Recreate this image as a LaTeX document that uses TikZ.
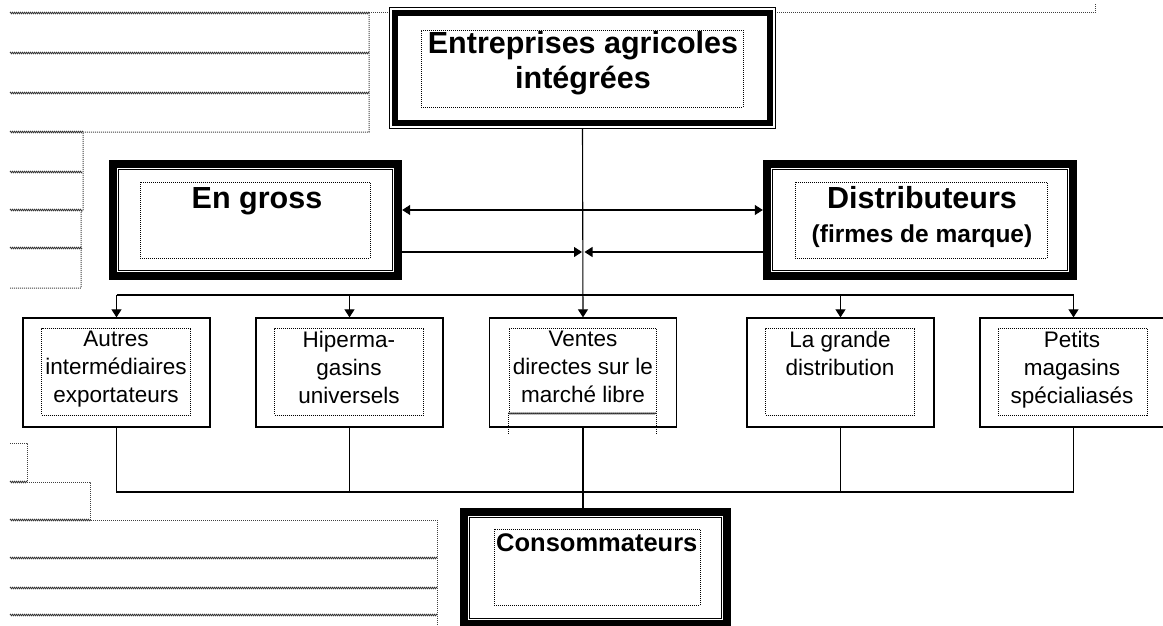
\documentclass[tikz,border=0pt]{standalone}
\usepackage{fontspec}
\setmainfont{Liberation Sans}
\usetikzlibrary{arrows.meta,decorations.pathmorphing,calc}
\begin{document}
\begin{tikzpicture}[x=1pt,y=-1pt,
  wavy/.style={draw=black!80, line width=0.7pt, decorate, decoration={zigzag,amplitude=0.8pt,segment length=2pt}},
  dots/.style={draw=black!75, line width=1pt, dash pattern=on 1pt off 1pt},
  inner/.style={draw=black, line width=0.9pt, dash pattern=on 1pt off 1pt, inner sep=0pt},
  frame/.style={draw=none, inner sep=0pt},
  smallbox/.style={draw=black, line width=1.3pt, inner sep=0pt, minimum width=187pt, minimum height=109pt},
  smallin/.style={inner, minimum width=149pt, minimum height=87pt},
  band/.style={line width=8pt},
  dbl/.style={draw=black, line width=0.8pt, double=white, double distance=2.5pt},
  conn/.style={line width=1.1pt},
  tip/.tip={Triangle[length=8pt,width=10pt]},
  arr/.style={-tip},
  bigtxt/.style={font=\fontsize{30.5}{35}\selectfont\bfseries, align=center, inner sep=0pt},
  smtxt/.style={font=\fontsize{22.5}{28}\selectfont, align=center, inner sep=0pt, anchor=north},
]
\useasboundingbox[fill=white] (0,0) rectangle (1163,626);

% ---------- background grid fragments ----------
\foreach \y in {13,53,93} \draw[wavy] (10,\y) -- (369,\y);
\draw[wavy] (10,132) -- (83,132);
\foreach \y in {172,210,248} \draw[wavy] (10,\y) -- (82,\y);
\draw[dots] (369,13) -- (390,13);
\draw[dots] (775,13) -- (1095,13) -- (1095,4);
\draw[dots] (369,13) -- (369,132) -- (83,132) -- (83,210) -- (81,212) -- (81,288) -- (10,288);
\draw[dots] (10,443) -- (27,443) -- (27,482) -- (90,482) -- (90,520) -- (437,520) -- (437,630);
\draw[wavy] (10,482) -- (27,482);
\draw[wavy] (10,520) -- (90,520);
\foreach \y in {558,588,615} \draw[wavy] (10,\y) -- (437,\y);

% ---------- top box ----------
\node[frame, minimum width=385pt, minimum height=120pt] (top) at (582.5,68) {};
\draw[line width=1pt] (top.north west) rectangle (top.south east);
\draw[line width=6pt] ($(top.north west)+(5.5,5.5)$) rectangle ($(top.south east)+(-5.5,-5.5)$);
\node[inner, minimum width=322pt, minimum height=77pt] (topin) at (582,68.5) {};
\node[bigtxt] (toptxt) at (583,63) {Entreprises agricoles\\intégrées};

% ---------- En gross ----------
\node[frame, minimum width=293pt, minimum height=120pt] (gross) at (255.5,220) {};
\draw[band] ($(gross.north west)+(4,4)$) rectangle ($(gross.south east)+(-4,-4)$);
\draw[dbl] ($(gross.north west)+(11.5,11.5)$) rectangle ($(gross.south east)+(-11.5,-11.5)$);
\node[inner, minimum width=230pt, minimum height=76pt] (grossin) at (255,220) {};
\node[bigtxt, anchor=north] (grosstxt) at (257,187) {En gross};

% ---------- Distributeurs ----------
\node[frame, minimum width=314pt, minimum height=120pt] (dist) at (920,220) {};
\draw[band] ($(dist.north west)+(4,4)$) rectangle ($(dist.south east)+(-4,-4)$);
\draw[dbl] ($(dist.north west)+(11.5,11.5)$) rectangle ($(dist.south east)+(-11.5,-11.5)$);
\node[inner, minimum width=252pt, minimum height=76pt] (distin) at (921,220) {};
\node[bigtxt, anchor=north] (disttxt) at (922,186) {Distributeurs};
\node[font=\fontsize{24.5}{28}\selectfont\bfseries, inner sep=0pt] (disttxt2) at (922,236) {(firmes de marque)};

% ---------- bottom row ----------
\node[smallbox] (b1) at (116.5,372.5) {};
\node[smallbox] (b2) at (349.5,372.5) {};
\node[smallbox] (b3) at (583,372.5) {};
\node[smallbox] (b4) at (840.5,372.5) {};
\node[smallbox] (b5) at (1073.5,372.5) {};
\node[smallin] (b1in) at (116,371.5) {};
\node[smallin] (b2in) at (349,371.5) {};
\node[inner, minimum width=147pt, minimum height=85pt] (b3in) at (582.5,370.5) {};
\node[smallin] (b4in) at (840,371.5) {};
\node[smallin] (b5in) at (1072.5,371.5) {};
\draw[inner] (b3in.south west) -- ++(0,22);
\draw[inner] (b3in.south east) -- ++(0,22);
\draw[wavy] (b3in.south west) -- (b3in.south east);

\node[smtxt] (t1) at (116,331) {Autres\\intermédiaires\\exportateurs};
\node[smtxt] (t2) at (349,331) {Hiperma-\\gasins\\universels};
\node[smtxt] (t3) at (583,331) {Ventes\\directes sur le\\marché libre};
\node[smtxt] (t4) at (840,331) {La grande\\distribution};
\node[smtxt] (t5) at (1072,331) {Petits\\magasins\\spécialiasés};

% ---------- Consommateurs ----------
\node[frame, minimum width=271pt, minimum height=120pt] (cons) at (595.5,568) {};
\draw[band] ($(cons.north west)+(4,4)$) rectangle ($(cons.south east)+(-4,-4)$);
\draw[dbl] ($(cons.north west)+(11.5,11.5)$) rectangle ($(cons.south east)+(-11.5,-11.5)$);
\node[inner, minimum width=206pt, minimum height=76pt] (consin) at (597,567) {};
\node[font=\fontsize{25.5}{30}\selectfont\bfseries, inner sep=0pt, anchor=north west] (constxt) at (496,533) {Consommateurs};

% ---------- connectors ----------
\coordinate (cL) at (582,252);
\coordinate (cR) at (584.5,252);
\coordinate (bus) at (0,295);
\coordinate (bus2) at (0,492);
\draw[conn,arr] (top.south) -- (b3.north);
\draw[conn,tip-tip] ($(gross.east)+(0,-10)$) -- ($(dist.west)+(0,-10)$);
\draw[conn,arr] ($(gross.east)+(0,32)$) -- (cL);
\draw[conn,arr] ($(dist.west)+(0,32)$) -- (cR);
\draw[conn] (b1.north |- bus) -- (b5.north |- bus);
\foreach \b in {b1,b2,b4,b5} \draw[conn,arr] (\b.north |- bus) -- (\b.north);
\draw[conn] (b1.south) -- (b1.south |- bus2) -- (b5.south |- bus2) -- (b5.south);
\foreach \b in {b2,b3,b4} \draw[conn] (\b.south) -- (\b.south |- bus2);
\draw[conn] (b3.south |- bus2) -- (b3.south |- cons.north);
\end{tikzpicture}
\end{document}
